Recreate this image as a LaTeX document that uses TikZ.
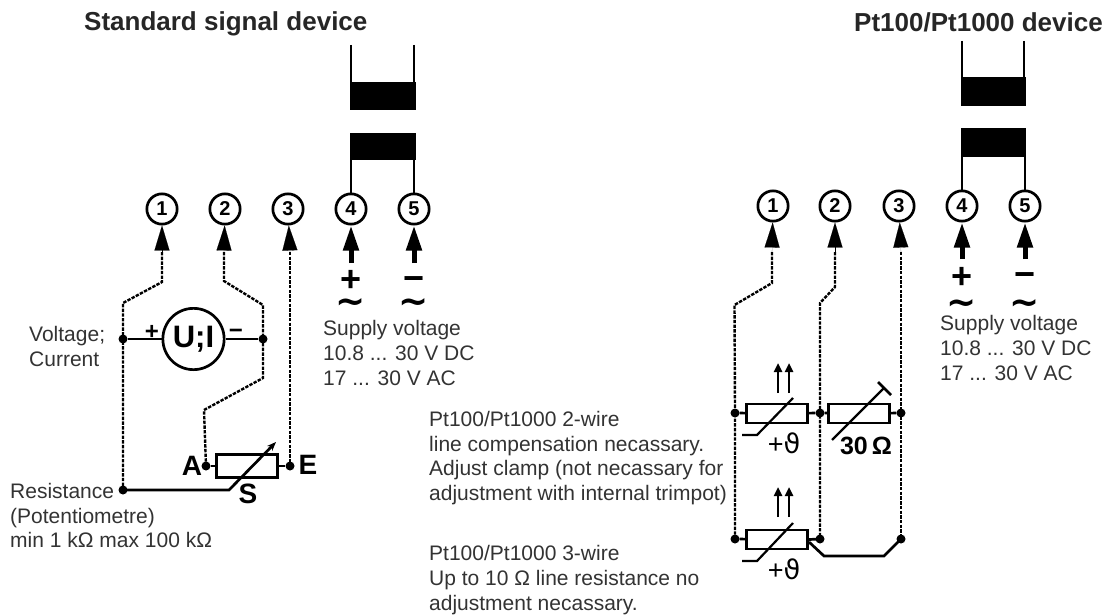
\documentclass[tikz,border=0pt]{standalone}
\usepackage{fontspec}
\setmainfont{Liberation Sans}
\newfontfamily\symfont{DejaVu Sans}
\usetikzlibrary{arrows.meta}
\definecolor{txt}{HTML}{333333}
\tikzset{
  x=1pt,y=-1pt,
  term/.style={circle,draw=black,line width=2.7pt,fill=white,minimum size=30.3pt,inner sep=0pt,font=\fontsize{20}{20}\selectfont\bfseries},
  dot/.style={circle,fill=black,minimum size=9pt,inner sep=0pt},
  wire/.style={line width=2.7pt,black},
  dwire/.style={line width=2.4pt,black,dash pattern=on 3.4pt off 1.3pt},
  headthin/.style={-{Triangle[length=25pt,width=15pt]},line width=0.1pt},
  headthick/.style={-{Triangle[length=25pt,width=15pt]},line width=5pt},
  res/.style={draw=black,line width=2.7pt,fill=white,inner sep=0pt,minimum width=61.3pt,minimum height=19pt},
  pot/.style={res,minimum height=23.3pt},
  lab/.style={anchor=west,inner sep=0pt,text=txt,align=left,font=\fontsize{21}{24.7}\selectfont},
  ttl/.style={anchor=west,inner sep=0pt,text=black!85,font=\fontsize{26}{30}\selectfont\bfseries},
  bigsym/.style={inner sep=0pt,text=black,font=\fontsize{36}{36}\selectfont\bfseries},
  smallsym/.style={inner sep=0pt,text=black,font=\fontsize{24}{24}\selectfont\bfseries},
  letter/.style={inner sep=0pt,text=black,font=\fontsize{28}{28}\selectfont\bfseries},
  tld/.style={inner sep=0pt,text=black,font=\fontsize{36}{36}\selectfont\bfseries\symfont},
  block/.style={fill=black,draw=none},
  theta/.style={inner sep=0pt,font=\fontsize{27}{27}\selectfont},
}
\begin{document}
\begin{tikzpicture}
\useasboundingbox (0,0) rectangle (1107,615);
\fill[white] (0,0) rectangle (1107,615);
% titles
\node[ttl] (t1) at (84,24) {Standard signal device};
\node[ttl] (t2) at (854,22) {Pt100/Pt1000 device};
% ---------- left terminals
\node[term] (a1) at (162,209) {1};
\node[term] (a2) at (225,209) {2};
\node[term] (a3) at (288,209) {3};
\node[term] (a4) at (351,209) {4};
\node[term] (a5) at (414,209) {5};
% top blocks
\fill[block] (350,82) rectangle (416,110);
\fill[block] (350,133) rectangle (416,160);
\coordinate (a4u) at (351,45); \coordinate (a4b) at (351,82);
\coordinate (a5u) at (414,45); \coordinate (a5b) at (414,82);
\coordinate (a4l) at (351,160); \coordinate (a5l) at (414,160);
\draw[wire] (a4u)--(a4b); \draw[wire] (a5u)--(a5b);
\draw[wire] (a4l)--(a4); \draw[wire] (a5l)--(a5);
% left wires
\coordinate (w1a) at (162,252); \coordinate (w1b) at (162,282); \coordinate (w1c) at (123,303);
\node[dot] (v1) at (123,339) {};
\node[dot] (r1) at (123,490) {};
\node[dot] (v2) at (263,339) {};
\node[dot] (pa) at (206,466) {};
\node[dot] (pe) at (290,466) {};
\draw[dwire] (w1a)--(w1b)--(w1c)--(v1.center)--(r1.center);
\coordinate (w2a) at (224,252); \coordinate (w2b) at (224,281); \coordinate (w2c) at (263,305);
\coordinate (w2d) at (263,378); \coordinate (w2e) at (204,410);
\draw[dwire] (w2a)--(w2b)--(w2c)--(v2.center)--(w2d)--(w2e)--(pa.center);
\coordinate (w3a) at (290,252);
\draw[dwire] (w3a)--(pe.center);
\draw[headthin] (w1a)--(a1);
\draw[headthin] (w2a)--(a2);
\draw[headthin] (w3a)--(a3);
\coordinate (h4) at (351,263); \coordinate (h5) at (414,263);
\draw[headthick] (h4)--(a4);
\draw[headthick] (h5)--(a5);
\node[bigsym] (ap) at (351,281) {+};
\node[bigsym] (am) at (414,284) {−};
\node[tld] (at1) at (351,306) {∼};
\node[tld] (at2) at (414,306) {∼};
% U;I
\node[circle,draw=black,line width=2.7pt,fill=white,minimum size=61.3pt,inner sep=0pt,font=\fontsize{31}{31}\selectfont\bfseries] (ui) at (193.500,339) {U;I};
\draw[wire] (v1)--(ui); \draw[wire] (ui)--(v2);
\node[smallsym] (up) at (152,332) {+};
\node[smallsym] (um) at (236,334) {−};
% potentiometer
\node[pot] (pot) at (247,466) {};
\draw[wire] (pa)--(pot); \draw[wire] (pot)--(pe);
\coordinate (s1) at (229,490);\coordinate (s2) at (276,442);
\draw[wire,-{Stealth[length=9pt,width=7pt]}] (r1.center)--(s1)--(s2);
\node[letter] (la) at (192,466) {A};
\node[letter] (le) at (308,465) {E};
\node[letter] (ls) at (248,494) {S};
% ---------- right terminals
\node[term] (b1) at (773,206) {1};
\node[term] (b2) at (835,206) {2};
\node[term] (b3) at (899,206) {3};
\node[term] (b4) at (962,206) {4};
\node[term] (b5) at (1025,206) {5};
\fill[block] (961,77) rectangle (1026,106);
\fill[block] (961,128) rectangle (1026,157);
\coordinate (b4u) at (962,41); \coordinate (b4b) at (962,77);
\coordinate (b5u) at (1024,41); \coordinate (b5b) at (1024,77);
\coordinate (b4l) at (962,157); \coordinate (b5l) at (1025,157);
\draw[wire] (b4u)--(b4b); \draw[wire] (b5u)--(b5b);
\draw[wire] (b4l)--(b4); \draw[wire] (b5l)--(b5);
\node[dot] (c1) at (735,413) {};
\node[dot] (c2) at (820,413) {};
\node[dot] (c3) at (901,413) {};
\node[dot] (d1) at (735,539) {};
\node[dot] (d2) at (820,539) {};
\node[dot] (d3) at (901,539) {};
\coordinate (x1a) at (772,252); \coordinate (x1b) at (772,283); \coordinate (x1c) at (734.500,305);
\draw[dwire] (x1a)--(x1b)--(x1c)--(c1.center)--(d1.center);
\coordinate (x2a) at (835,252); \coordinate (x2b) at (835,287); \coordinate (x2c) at (820,303);
\draw[dwire] (x2a)--(x2b)--(x2c)--(c2.center)--(d2.center);
\coordinate (x3a) at (901,252);
\draw[dwire] (x3a)--(c3.center)--(d3.center);
\draw[headthin] (x1a)--(b1);
\draw[headthin] (x2a)--(b2);
\draw[headthin] (x3a)--(b3);
\coordinate (k4) at (962,259); \coordinate (k5) at (1025,259);
\draw[headthick] (k4)--(b4);
\draw[headthick] (k5)--(b5);
\node[bigsym] (bp) at (962,278) {+};
\node[bigsym] (bm) at (1025,280) {−};
\node[tld] (bt1) at (962,307) {∼};
\node[tld] (bt2) at (1025,307) {∼};
% resistors right
\node[res] (r21) at (777,413.500) {};
\node[res] (r22) at (859,413.500) {};
\node[res] (r31) at (777,539.500) {};
\draw[wire] (c1)--(r21); \draw[wire] (r21)--(c2); \draw[wire] (c2)--(r22); \draw[wire] (r22)--(c3);
\draw[wire] (d1)--(r31);
\coordinate (q1) at (809,542); \coordinate (q2) at (824,556); \coordinate (q3) at (884,556);
\draw[wire] (q1)--(q2)--(q3)--(d3.center);
\draw[wire] (r31.east)--(d2.center);
% slashes
\draw[line width=2.2pt] (742,435)--(757,435)--(793,398);
\draw[line width=2.2pt] (742,561)--(757,561)--(793,523);
\draw[line width=2.2pt] (832,440)--(884,388);
\draw[wire] (878,382)--(891,395);
% double arrows
\foreach \ya/\yb/\n in {393/363/p,517/487/q}{
  \coordinate (\n1) at (778,\ya); \coordinate (\n2) at (778,\yb);
  \coordinate (\n3) at (789,\ya); \coordinate (\n4) at (789,\yb);
  \draw[line width=2.7pt,-{Triangle[length=9pt,width=8pt]}] (\n1)--(\n2);
  \draw[line width=2.7pt,-{Triangle[length=9pt,width=8pt]}] (\n3)--(\n4);
}
\node[theta] (th1) at (784,443) {+{\symfont ϑ}};
\node[theta] (th2) at (784,569) {+{\symfont ϑ}};
\node[inner sep=0pt,font=\fontsize{25}{25}\selectfont\bfseries] (om) at (866,446) {30\,Ω};
% texts
\node[lab] (l1) at (29,346.500) {Voltage;\\Current};
\node[lab] (l2) at (10,515.500) {Resistance\\(Potentiometre)\\min 1 kΩ max 100 kΩ};
\node[lab] (l3) at (323,353) {Supply voltage\\10.8 ... 30 V DC\\17 ... 30 V AC};
\node[lab] (l4) at (940,348) {Supply voltage\\10.8 ... 30 V DC\\17 ... 30 V AC};
\node[lab] (l5) at (429,458) {Pt100/Pt1000 2-wire\\line compensation necassary.\\Adjust clamp (not necassary for\\adjustment with internal trimpot)};
\node[lab] (l6) at (429,580) {Pt100/Pt1000 3-wire\\Up to 10 Ω line resistance no\\adjustment necassary.};
\end{tikzpicture}
\end{document}
